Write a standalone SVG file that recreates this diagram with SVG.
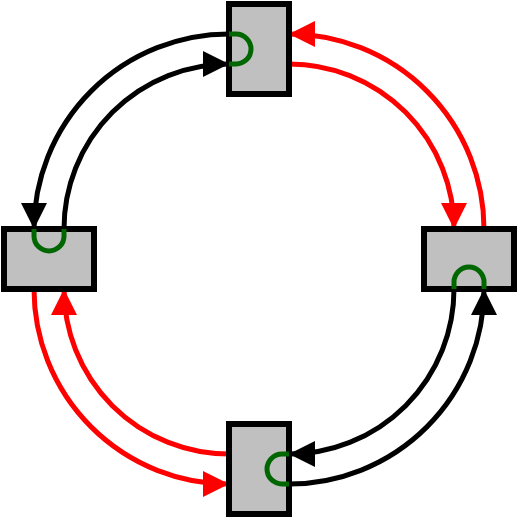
<svg xmlns="http://www.w3.org/2000/svg" width="517" height="517" viewBox="0 0 517 517">
<style>
.arc{fill:none;stroke-width:5}
.blk{stroke:#000000}
.red{stroke:#ff0000}
.box{fill:#c0c0c0;stroke:#000000;stroke-width:6}
.loop{fill:none;stroke:#006600;stroke-width:5}
</style>
<defs>
<marker id="ab" viewBox="0 0 26 26" refX="26" refY="13" markerWidth="26" markerHeight="26" markerUnits="userSpaceOnUse" orient="auto"><path d="M0,0 L26,13 L0,26 Z" fill="#000000"/></marker>
<marker id="ar" viewBox="0 0 26 26" refX="26" refY="13" markerWidth="26" markerHeight="26" markerUnits="userSpaceOnUse" orient="auto"><path d="M0,0 L26,13 L0,26 Z" fill="#ff0000"/></marker>
</defs>
<rect width="517" height="517" fill="#ffffff"/>
<g id="connectors">
<path class="arc blk" d="M229,34 A195,195 0 0 0 34,229" marker-end="url(#ab)"/>
<path class="arc blk" d="M64,229 A165,165 0 0 1 229,64" marker-end="url(#ab)"/>
<path class="arc red" d="M484,229 A195,195 0 0 0 289,34" marker-end="url(#ar)"/>
<path class="arc red" d="M289,64 A165,165 0 0 1 454,229" marker-end="url(#ar)"/>
<path class="arc blk" d="M289,484 A195,195 0 0 0 484,289" marker-end="url(#ab)"/>
<path class="arc blk" d="M454,289 A165,165 0 0 1 289,454" marker-end="url(#ab)"/>
<path class="arc red" d="M229,454 A165,165 0 0 1 64,289" marker-end="url(#ar)"/>
<path class="arc red" d="M34,289 A195,195 0 0 0 229,484" marker-end="url(#ar)"/>
</g>
<g id="node-top">
<rect class="box" x="229" y="4" width="60" height="90"/>
<path class="loop" d="M229,34 H236 A15,15 0 0 1 236,64 H229"/>
</g>
<g id="node-left">
<rect class="box" x="4" y="229" width="90" height="60"/>
<path class="loop" d="M34,229 V236 A15,15 0 0 0 64,236 V229"/>
</g>
<g id="node-right">
<rect class="box" x="424" y="229" width="90" height="60"/>
<path class="loop" d="M454,289 V282 A15,15 0 0 1 484,282 V289"/>
</g>
<g id="node-bottom">
<rect class="box" x="229" y="424" width="60" height="90"/>
<path class="loop" d="M289,454 H282 A15,15 0 0 0 282,484 H289"/>
</g>
</svg>
